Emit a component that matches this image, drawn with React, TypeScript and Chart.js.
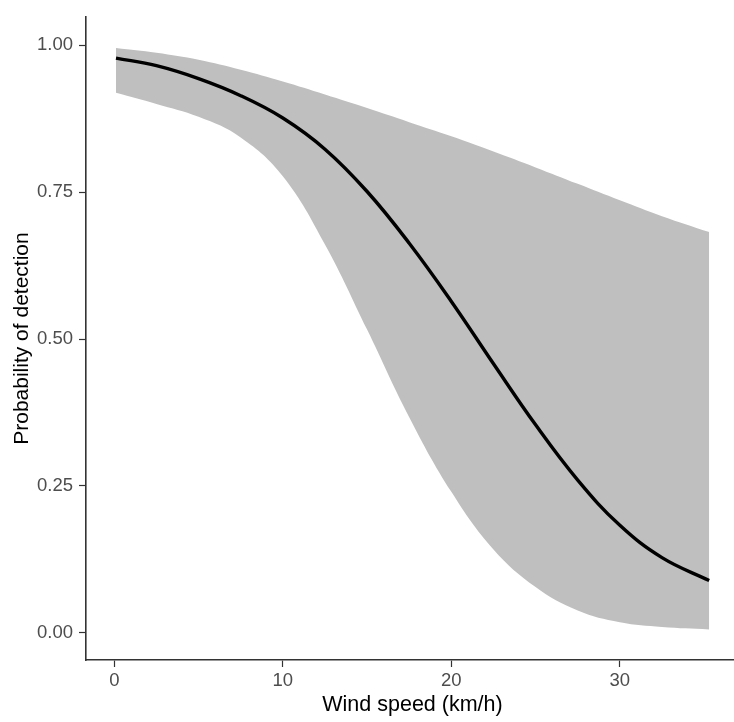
import React, { useEffect, useRef } from "react";
import { Chart, registerables } from "chart.js";

Chart.register(...registerables);

// Wind speed (km/h)
const windSpeed = [0.1, 2.5, 5, 7.5, 10, 12.5, 15, 17.5, 20, 22.5, 25, 27.5, 30, 32.5, 35.3];
// Fitted probability of detection
const meanProb = [0.978, 0.965, 0.943, 0.914, 0.876, 0.823, 0.751, 0.663, 0.564, 0.458, 0.354, 0.26, 0.183, 0.128, 0.089];
// Upper confidence limit
const upperCI = [0.995, 0.987, 0.975, 0.958, 0.938, 0.916, 0.893, 0.869, 0.845, 0.819, 0.792, 0.764, 0.736, 0.709, 0.682];
// Lower confidence limit
const lowerCI = [0.919, 0.9, 0.878, 0.843, 0.777, 0.661, 0.516, 0.367, 0.24, 0.142, 0.078, 0.038, 0.018, 0.01, 0.006];

const xTicks = [0, 10, 20, 30];
const yTicks = [0, 0.25, 0.5, 0.75, 1];

export default function App() {
  const ref = useRef<HTMLCanvasElement | null>(null);

  useEffect(() => {
    document.body.style.margin = "0";
    const canvas = ref.current;
    if (!canvas) return;
    const pts = (arr: number[]) => windSpeed.map((x, i) => ({ x, y: arr[i] }));
    const fontFamily = "'Liberation Sans', Arial, sans-serif";
    const chart = new Chart(canvas, {
      type: "line",
      data: {
        datasets: [
          {
            label: "upper",
            data: pts(upperCI),
            borderWidth: 0,
            borderColor: "rgba(0,0,0,0)",
            backgroundColor: "#bfbfbf",
            pointRadius: 0,
            fill: "+1",
            order: 3,
            tension: 0.4,
          },
          {
            label: "lower",
            data: pts(lowerCI),
            borderWidth: 0,
            borderColor: "rgba(0,0,0,0)",
            backgroundColor: "#bfbfbf",
            pointRadius: 0,
            fill: false,
            order: 2,
            tension: 0.4,
          },
          {
            label: "mean",
            data: pts(meanProb),
            borderWidth: 3.4,
            borderColor: "#000000",
            pointRadius: 0,
            fill: false,
            order: 1,
            tension: 0.4,
          },
        ],
      },
      options: {
        animation: false,
        responsive: false,
        maintainAspectRatio: false,
        layout: { padding: { top: 11, right: 1, left: 0, bottom: 0 } },
        plugins: {
          legend: { display: false },
          tooltip: { enabled: false },
        },
        scales: {
          x: {
            type: "linear",
            min: -1.68,
            max: 37.07,
            afterBuildTicks: (s: any) => {
              s.ticks = xTicks.map((v) => ({ value: v }));
            },
            afterFit: (s: any) => {
              s.height = 62;
            },
            grid: {
              display: true,
              drawOnChartArea: false,
              drawTicks: true,
              tickLength: 7,
              tickColor: "#333333",
              tickWidth: 1.2,
            },
            border: { display: true, color: "#333333", width: 1.6 },
            ticks: {
              color: "#4d4d4d",
              font: { family: fontFamily, size: 18.5 },
              padding: 3,
              maxRotation: 0,
              callback: (v: any) => String(v),
            },
            title: {
              display: true,
              text: "Wind speed (km/h)",
              color: "#000000",
              font: { family: fontFamily, size: 21.5 },
              padding: { top: 0, bottom: 4 },
            },
          },
          y: {
            type: "linear",
            min: -0.0461,
            max: 1.0477,
            afterBuildTicks: (s: any) => {
              s.ticks = yTicks.map((v) => ({ value: v }));
            },
            afterFit: (s: any) => {
              s.width = 86;
            },
            grid: {
              display: true,
              drawOnChartArea: false,
              drawTicks: true,
              tickLength: 7,
              tickColor: "#333333",
              tickWidth: 1.2,
            },
            border: { display: true, color: "#333333", width: 1.6 },
            ticks: {
              color: "#4d4d4d",
              font: { family: fontFamily, size: 18.5 },
              padding: 6,
              callback: (v: any) => Number(v).toFixed(2),
            },
            title: {
              display: true,
              text: "Probability of detection",
              color: "#000000",
              font: { family: fontFamily, size: 21 },
              padding: { top: 10, bottom: 0 },
            },
          },
        },
      },
    });
    return () => chart.destroy();
  }, []);

  return (
    <div style={{ position: "absolute", left: 0, top: 0, width: 734, height: 722, overflow: "hidden", background: "#ffffff" }}>
      <canvas ref={ref} width={740} height={722} style={{ width: 740, height: 722, display: "block" }} />
    </div>
  );
}
